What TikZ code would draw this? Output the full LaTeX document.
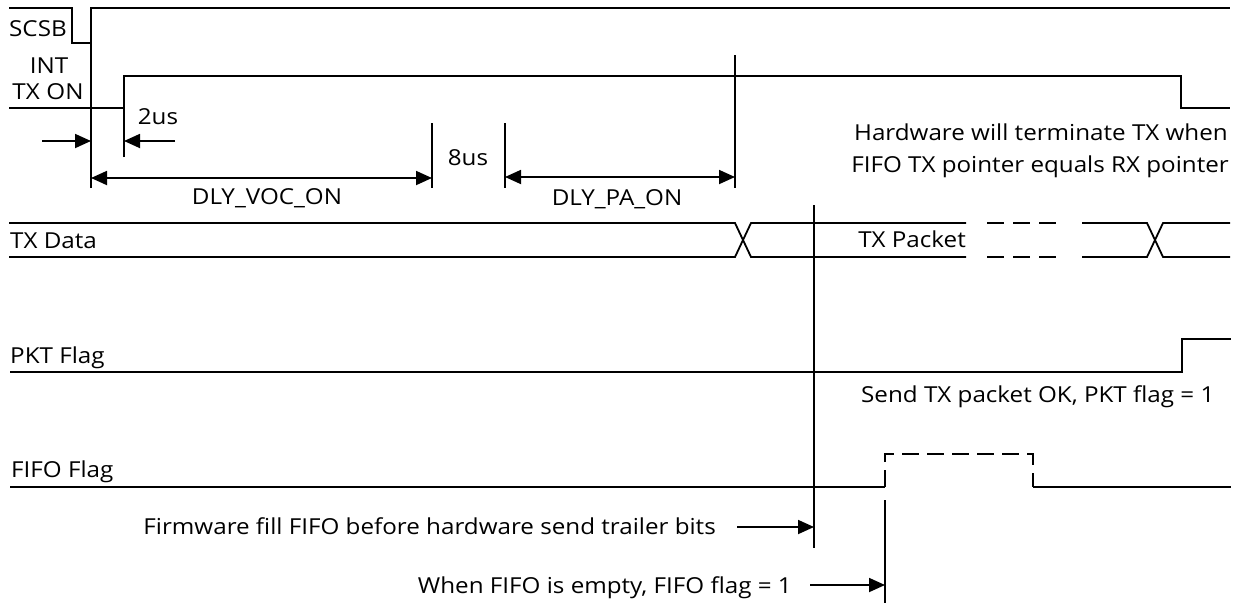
\documentclass[tikz,border=0pt]{standalone}
\usepackage{fontspec}
\setmainfont{Open Sans}[FakeStretch=1.1]
\usetikzlibrary{arrows.meta}
\begin{document}
\begin{tikzpicture}[x=1pt,y=-1pt,
  sig/.style={line width=1.8pt,line join=miter},
  guide/.style={line width=1.8pt},
  dashsig/.style={line width=1.8pt,dash pattern=on 17pt off 9pt},
  arr/.style={line width=1.8pt,-{Triangle[length=16pt,width=14pt]}},
  darr/.style={line width=1.8pt,{Triangle[length=16pt,width=14pt]}-{Triangle[length=16pt,width=14pt]}},
  lbl/.style={font=\fontsize{22}{26}\selectfont,inner sep=0pt}]
\useasboundingbox[fill=white] (0,0) rectangle (1242,603);

% ---------- labels ----------
\node[lbl,anchor=base west] (scsb) at (9,36) {SCSB};
\node[lbl,anchor=base] (int) at (49,73) {INT};
\node[lbl,anchor=base] (txon) at (48,99) {TX\hspace{0.3em}ON};
\node[lbl,anchor=base] (t2us) at (158,124) {2us};
\node[lbl,anchor=base] (t8us) at (468,165) {8us};
\node[lbl,anchor=base] (dlyvoc) at (267,204) {DLY\_VOC\_ON};
\node[lbl,anchor=base] (dlypa) at (617,205) {DLY\_PA\_ON};
\node[lbl,anchor=base east] (hw1) at (1228,140) {Hardware will terminate TX when};
\node[lbl,anchor=base east] (hw2) at (1229,172) {FIFO TX pointer equals RX pointer};
\node[lbl,anchor=base west] (txdata) at (10,248) {TX Data};
\node[lbl,anchor=base east] (txpkt) at (966,247) {TX Packet};
\node[lbl,anchor=base west] (pktflag) at (10,363) {PKT Flag};
\node[lbl,anchor=base west] (sendok) at (861,402) {Send TX packet OK, PKT flag = 1};
\node[lbl,anchor=base west] (fifoflag) at (11,477) {FIFO Flag};
\node[lbl,anchor=base east] (firm) at (716,534) {Firmware fill FIFO before hardware send trailer bits};
\node[lbl,anchor=base east] (empty) at (792,593) {When FIFO is empty, FIFO flag = 1};

% ---------- SCSB ----------
\draw[sig] (9,8) -- (72,8) -- (72,43) -- (91,43);
\draw[guide] (91,188) -- (91,8) -- (1230,8);

% ---------- INT TX ON ----------
\draw[sig] (9,108) -- (124,108);
\draw[guide] (124,157) -- (124,76) -- (1181,76) -- (1181,108) -- (1230,108);

% ---------- timing guides ----------
\draw[guide] (432,123) -- (432,188);
\draw[guide] (505,123) -- (505,188);
\draw[guide] (735,55) -- (735,188);
\draw[guide] (814,205) -- (814,548);
\draw[guide] (885,500) -- (885,603);

% ---------- dimension arrows ----------
\coordinate (a1s) at (42,141);  \coordinate (a1e) at (91,141);
\coordinate (a2s) at (175,141); \coordinate (a2e) at (124,141);
\draw[arr] (a1s) -- (a1e);
\draw[arr] (a2s) -- (a2e);
\coordinate (v1) at (91,178);  \coordinate (v2) at (432,178);
\draw[darr] (v1) -- (v2);
\coordinate (p1) at (505,177); \coordinate (p2) at (735,177);
\draw[darr] (p1) -- (p2);
\coordinate (f1) at (737,527); \coordinate (f2) at (814,527);
\draw[arr] (f1) -- (f2);
\coordinate (e1) at (810,585); \coordinate (e2) at (885,585);
\draw[arr] (e1) -- (e2);

% ---------- TX Data bus ----------
\draw[sig] (9,223) -- (735,223) -- (751,257) -- (966,257);
\draw[sig] (9,257) -- (735,257) -- (751,223) -- (966,223);
\draw[dashsig] (987,223) -- (1060,223);
\draw[dashsig] (987,257) -- (1060,257);
\draw[sig] (1082,223) -- (1147,223) -- (1163,257) -- (1230,257);
\draw[sig] (1082,257) -- (1147,257) -- (1163,223) -- (1230,223);

% ---------- PKT Flag ----------
\draw[sig] (10,372) -- (1182,372) -- (1182,339) -- (1231,339);

% ---------- FIFO Flag ----------
\draw[sig] (10,487) -- (885,487);
\draw[dashsig,dash pattern=on 17pt off 8pt,dash phase=0pt] (885,487) -- (885,454) -- (1033,454) -- (1033,487);
\draw[sig] (1033,487) -- (1231,487);
\end{tikzpicture}
\end{document}
